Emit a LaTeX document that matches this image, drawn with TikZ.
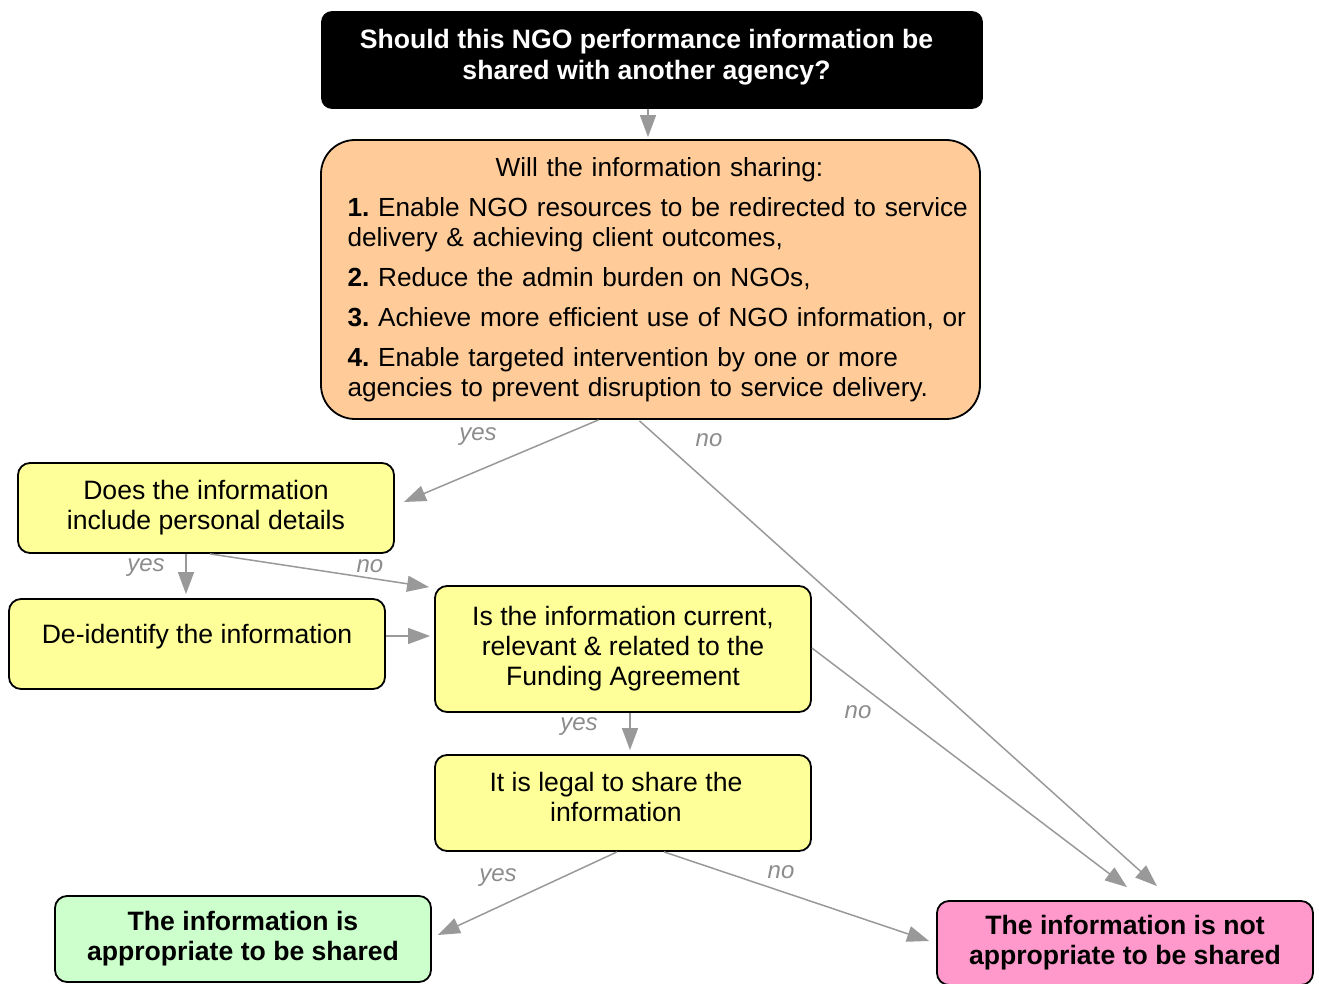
\documentclass[tikz,border=0pt]{standalone}
\usepackage{fontspec}
\setmainfont{Liberation Sans}
\usepackage{xcolor}
\usepackage{tikz}
\usetikzlibrary{positioning, arrows.meta, calc}
\definecolor{critorange}{HTML}{FFCC99}
\definecolor{stepyellow}{HTML}{FFFF99}
\definecolor{okgreen}{HTML}{CCFFCC}
\definecolor{notpink}{HTML}{FF99CC}
\definecolor{arrowgray}{HTML}{999999}
\definecolor{labelgray}{HTML}{8C8C8C}
\tikzstyle{line} = [draw, arrowgray, line width=0.75pt, -{Triangle[length=11pt,width=8pt]}]
\tikzstyle{basebox} = [rectangle, draw, line width=0.9pt, inner sep=0pt,
    font=\fontsize{13.3}{15}\selectfont, align=center]
\tikzstyle{block} = [basebox, fill=stepyellow, rounded corners=6pt,
    minimum width=188pt]
\tikzstyle{lbl} = [font=\fontsize{12}{14}\selectfont\itshape, text=labelgray, inner sep=0pt]

\begin{document}
\begin{tikzpicture}[x=0.5pt, y=-0.5pt]
      \useasboundingbox (0,0) rectangle (1319,984);
      % Place question nodes
      \node [basebox, fill=black, text=white, rounded corners=5pt, minimum width=330pt,
        minimum height=48pt, text depth=6pt, font=\fontsize{13.3}{15.5}\selectfont\bfseries] (question) at (652,60)
        {\hspace*{-5.5pt}Should this NGO performance information be\\\hspace*{-5.5pt}shared with another agency?};
      \node [basebox, fill=critorange, rounded corners=17pt, minimum width=329.5pt,
        minimum height=139.5pt, text width=328pt, align=left,
        font=\fontsize{13.1}{15}\selectfont] (crit) at (650.5,279.5)
        {\frenchspacing{\centering\hspace*{9pt}Will the information sharing:\par}\vspace{5pt}
         \raggedright\leftskip=12.5pt
         \textbf{1.} Enable NGO resources to be redirected to service\\delivery \& achieving client outcomes,\par\vspace{5pt}
         \textbf{2.} Reduce the admin burden on NGOs,\par\vspace{5pt}
         \textbf{3.} Achieve more efficient use of NGO information, or\par\vspace{5pt}
         \textbf{4.} Enable targeted intervention by one or more\\agencies to prevent disruption to service delivery.\par};
      % Place yellow steps
      \node [block, minimum height=45pt] (personal) at (206,508)
        {Does the information\\include personal details};
      \node [block, minimum height=45pt, text depth=10.5pt] (deid) at (197,644)
        {De-identify the information};
      \node [block, minimum height=63pt] (current) at (623,649)
        {Is the information current,\\relevant \& related to the\\Funding Agreement};
      \node [block, minimum height=48pt, text depth=6pt] (legal) at (623,803)
        {\hspace*{-7pt}It is legal to share the\\\hspace*{-7pt}information};
      % Place outcome nodes
      \node [basebox, fill=okgreen, rounded corners=6pt, minimum width=188pt, minimum height=43pt,
        font=\fontsize{13.3}{15}\selectfont\bfseries] (shareok) at (243,939)
        {The information is\\appropriate to be shared};
      \node [basebox, fill=notpink, rounded corners=6pt, minimum width=188pt, minimum height=42pt,
        font=\fontsize{13.3}{15}\selectfont\bfseries] (sharenot) at (1125,943)
        {The information is not\\appropriate to be shared};
      % Draw edges
      \path [line] ($(question.south)+(-4,0)$) -- ($(crit.north)+(-2.5,-2)$);
      \path [line] ($(crit.south)+(-52,0)$) -- ($(personal.east)+(9,-6)$);
      \path [line] ($(crit.south)+(-11,1)$) -- ($(sharenot.north)+(32,-14)$);
      \path [line] ($(personal.south)+(-20,0)$) -- ($(deid.north)+(-11,-4)$);
      \path [line] ($(personal.south)+(4,0)$) -- ($(current.north west)+(-5,2)$);
      \path [line] ($(deid.east)+(0,-8)$) -- ($(current.west)+(-4,-13)$);
      \path [line] ($(current.south)+(7,0)$) -- ($(legal.north)+(7,-4)$);
      \path [line] ($(current.east)+(0,-1)$) -- ($(sharenot.north)+(2,-13)$);
      \path [line] ($(legal.south)+(-6,0)$) -- ($(shareok.east)+(6,-4)$);
      \path [line] ($(legal.south)+(41,0)$) -- ($(sharenot.west)+(-7,-2)$);
      % Edge labels
      \node [lbl] (crityes) at (478,437) {yes};
      \node [lbl] (critno) at (709,440) {no};
      \node [lbl] (persyes) at (146,568) {yes};
      \node [lbl] (persno) at (370,566) {no};
      \node [lbl] (curyes) at (579,727) {yes};
      \node [lbl] (curno) at (858,712) {no};
      \node [lbl] (legyes) at (498,878) {yes};
      \node [lbl] (legno) at (781,872) {no};
  \end{tikzpicture}
\end{document}
